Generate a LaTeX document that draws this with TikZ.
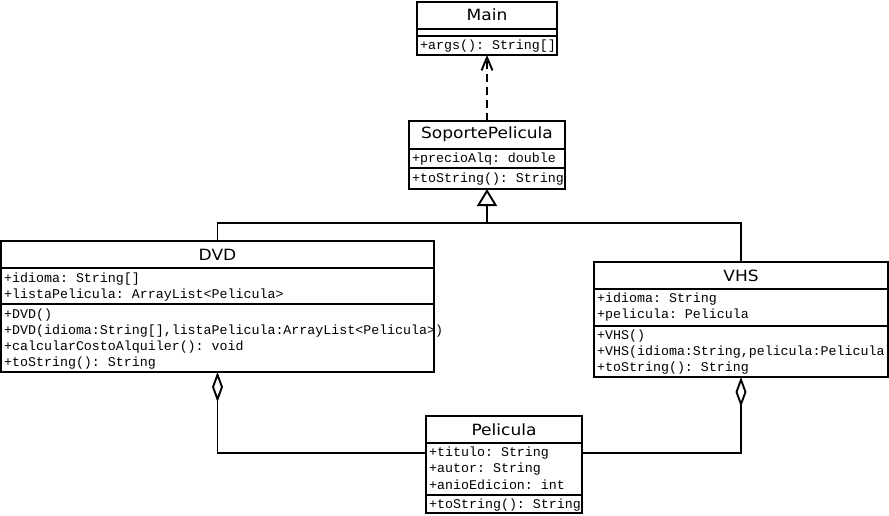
\documentclass[tikz,border=0pt]{standalone}
\usepackage{fontspec}
\setmonofont{Liberation Mono}
\newfontfamily\titlefont[FakeStretch=1.1]{DejaVu Sans}
\usetikzlibrary{arrows.meta,calc}
\begin{document}
\begin{tikzpicture}[x=1pt,y=-1pt,
  box/.style={draw,line width=1.9pt,inner sep=0pt,outer sep=0pt,anchor=north west},
  ttl/.style={font=\titlefont\fontsize{15.5}{18}\selectfont,inner sep=0pt},
  mem/.style={font=\ttfamily\fontsize{13.3}{16}\selectfont,anchor=west,inner sep=0pt},
  ln/.style={line width=1.9pt},
  gen/.style={line width=1.9pt,-{Triangle[open,length=17pt,width=20pt,line width=1.9pt]}},
  dep/.style={line width=1.9pt,dash pattern=on 8pt off 5pt,-{Straight Barb[length=13pt,width=11pt,line width=1.9pt]}},
  agg/.style={line width=1.9pt,{Diamond[open,length=30pt,width=11pt,line width=1.9pt]}-}]
\useasboundingbox (0,0) rectangle (889,516);

% Main
\node[box,minimum width=140pt,minimum height=53pt] (main) at (417,2) {};
\draw[ln] ($(main.north west)+(0,27)$) -- ($(main.north east)+(0,27)$);
\draw[ln] ($(main.north west)+(0,34)$) -- ($(main.north east)+(0,34)$);
\node[ttl] (mainT) at (487,15) {Main};
\node[mem] (mainM1) at (420,46) {+args(): String[]};

% SoportePelicula
\node[box,minimum width=156pt,minimum height=68pt] (sp) at (409,121) {};
\draw[ln] ($(sp.north west)+(0,28)$) -- ($(sp.north east)+(0,28)$);
\draw[ln] ($(sp.north west)+(0,47)$) -- ($(sp.north east)+(0,47)$);
\node[ttl] (spT) at (487,134) {SoportePelicula};
\node[mem] (spA1) at (412,159) {+precioAlq: double};
\node[mem] (spM1) at (412,179) {+toString(): String};

% DVD
\node[box,minimum width=433pt,minimum height=131pt] (dvd) at (1,241) {};
\draw[ln] ($(dvd.north west)+(0,27)$) -- ($(dvd.north east)+(0,27)$);
\draw[ln] ($(dvd.north west)+(0,63)$) -- ($(dvd.north east)+(0,63)$);
\node[ttl] (dvdT) at (217.5,255) {DVD};
\node[mem] (dvdA1) at (4,279) {+idioma: String[]};
\node[mem] (dvdA2) at (4,295) {+listaPelicula: ArrayList<Pelicula>};
\node[mem] (dvdM1) at (4,315) {+DVD()};
\node[mem] (dvdM2) at (4,331) {+DVD(idioma:String[],listaPelicula:ArrayList<Pelicula>)};
\node[mem] (dvdM3) at (4,347) {+calcularCostoAlquiler(): void};
\node[mem] (dvdM4) at (4,363) {+toString(): String};

% VHS
\node[box,minimum width=294pt,minimum height=115pt] (vhs) at (594,262) {};
\draw[ln] ($(vhs.north west)+(0,27)$) -- ($(vhs.north east)+(0,27)$);
\draw[ln] ($(vhs.north west)+(0,64)$) -- ($(vhs.north east)+(0,64)$);
\node[ttl] (vhsT) at (741,276) {VHS};
\node[mem] (vhsA1) at (597,299) {+idioma: String};
\node[mem] (vhsA2) at (597,315) {+pelicula: Pelicula};
\node[mem] (vhsM1) at (597,336) {+VHS()};
\node[mem] (vhsM2) at (597,352) {+VHS(idioma:String,pelicula:Pelicula)};
\node[mem] (vhsM3) at (597,368) {+toString(): String};

% Pelicula
\node[box,minimum width=156pt,minimum height=97pt] (pel) at (426,416) {};
\draw[ln] ($(pel.north west)+(0,27)$) -- ($(pel.north east)+(0,27)$);
\draw[ln] ($(pel.north west)+(0,79)$) -- ($(pel.north east)+(0,79)$);
\node[ttl] (pelT) at (504,430) {Pelicula};
\node[mem] (pelA1) at (429,453) {+titulo: String};
\node[mem] (pelA2) at (429,469) {+autor: String};
\node[mem] (pelA3) at (429,485) {+anioEdicion: int};
\node[mem] (pelM1) at (429,505) {+toString(): String};

% connectors
\coordinate (j) at (487,223);
\coordinate (aggy) at (0,453);
\draw[dep] (sp.north) -- (main.south);
\draw[gen] (dvd.north) |- (j) -- (sp.south);
\draw[ln] (vhs.north) |- (j);
\draw[agg] (dvd.south) |- (pel.west |- aggy);
\draw[agg] (vhs.south) |- (pel.east |- aggy);
\end{tikzpicture}
\end{document}
